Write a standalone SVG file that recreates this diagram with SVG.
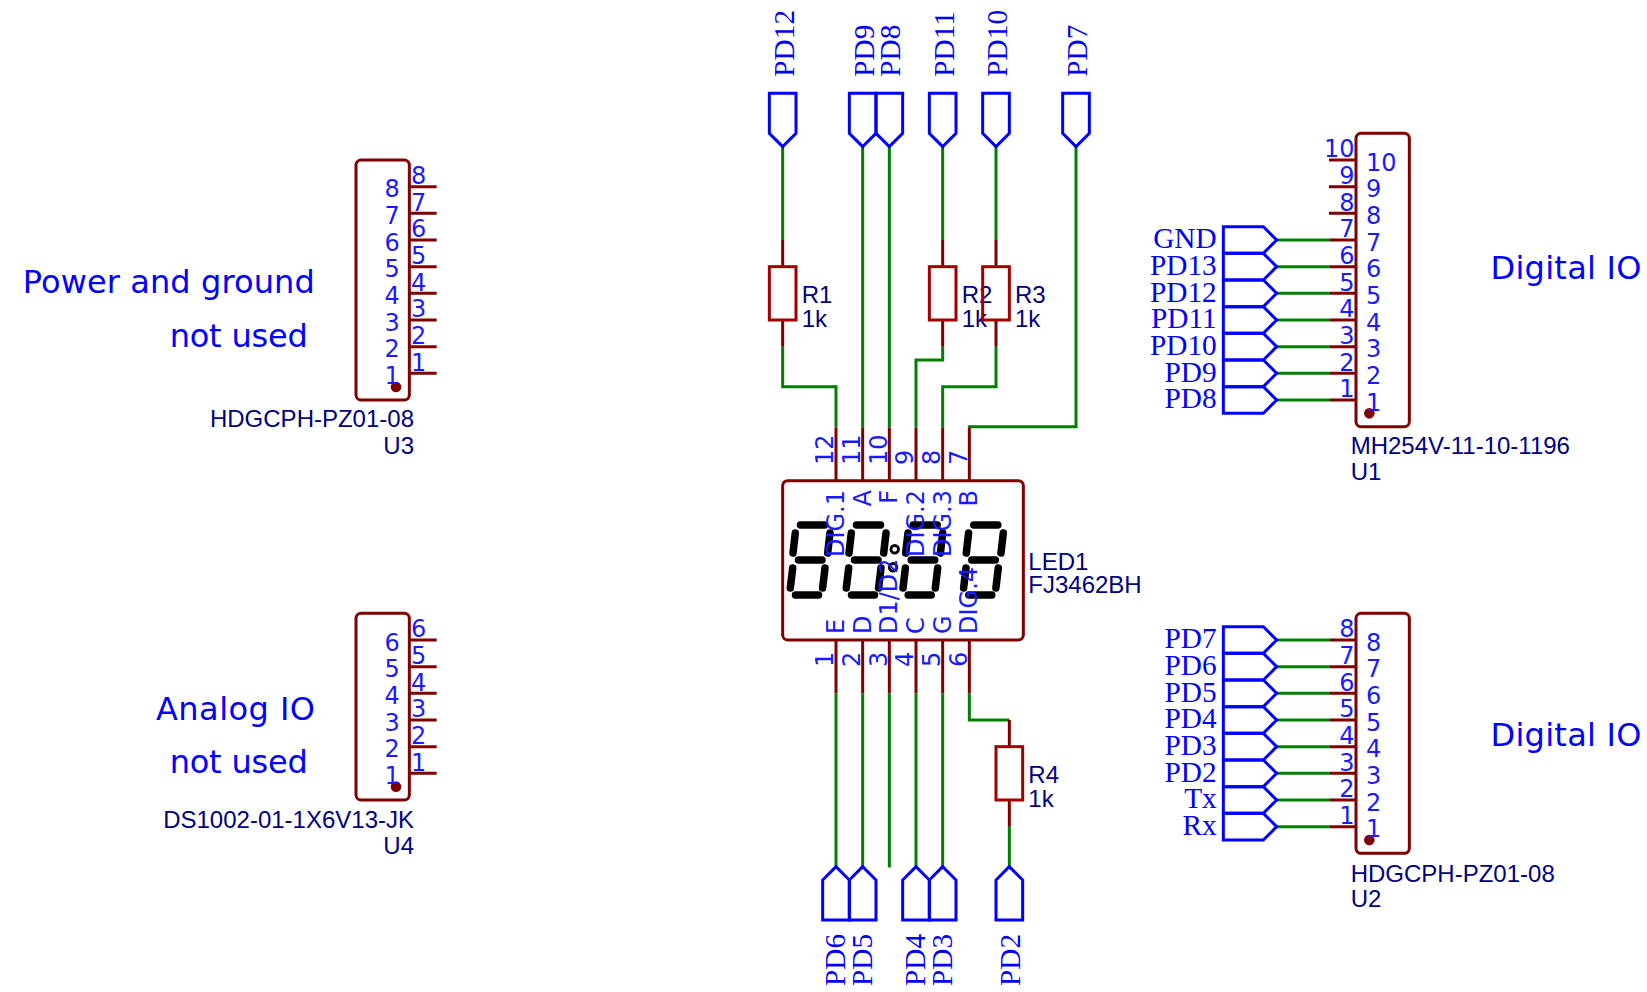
<svg xmlns="http://www.w3.org/2000/svg" xmlns:xlink="http://www.w3.org/1999/xlink" width="1647" height="992" viewBox="0 0 1647 992">
<style>
.body{fill:#fff;stroke:#800000;stroke-width:3}
.pin{fill:none;stroke:#800000;stroke-width:3}
.res{fill:none;stroke:#a00000;stroke-width:3}
.wire{fill:none;stroke:#008000;stroke-width:3}
.port{fill:none;stroke:#0000ff;stroke-width:3}
.dot{fill:#800000}
.seg{fill:none;stroke:#000;stroke-width:7.5;stroke-linecap:round}
.pn{font-family:"DejaVu Sans",Verdana,sans-serif;font-size:24px;fill:#1a1aff}
.dn{font-family:"Liberation Sans",Arial,sans-serif;font-size:24px;fill:#000080}
.pl{font-family:"Liberation Serif","Times New Roman",serif;font-size:29.3px;fill:#0000ff}
.note{font-family:"DejaVu Sans",Verdana,sans-serif;font-size:32px;fill:#0000ff}
.e{text-anchor:end}
</style>
<defs>
<polygon id="pR" class="port" points="0,0 -13.33,-13.33 -53.33,-13.33 -53.33,13.33 -13.33,13.33"/>
<polygon id="pD" class="port" points="0,0 -13.33,-13.33 -13.33,-53.33 13.33,-53.33 13.33,-13.33"/>
<polygon id="pU" class="port" points="0,0 -13.33,13.33 -13.33,53.33 13.33,53.33 13.33,13.33"/>
<g id="digit">
<path class="seg" d="M800.5 525H824.5M795.3 533L793 553M830 533L827.7 553M798.5 560H822M792.7 568L790.3 588M825 568L822.6 588M795.5 595H818.5"/>
</g>
</defs>

<g id="connectors">
<path class="wire" d="M782.67 146.67V240M782.67 346.67V386.67H836V427"/>
<path class="wire" d="M862.67 146.67V427"/>
<path class="wire" d="M889.33 146.67V427"/>
<path class="wire" d="M942.67 146.67V240M942.67 346.67V360H916V427"/>
<path class="wire" d="M996 146.67V240M996 346.67V386.67H942.67V427"/>
<path class="wire" d="M1076 146.67V426.67H969.33V427"/>
<path class="wire" d="M836 693.33V866.67"/>
<path class="wire" d="M862.67 693.33V866.67"/>
<path class="wire" d="M889.33 693.33V867.5"/>
<path class="wire" d="M916 693.33V866.67"/>
<path class="wire" d="M942.67 693.33V866.67"/>
<path class="wire" d="M969.33 693.33V720H1009.33"/>
<path class="wire" d="M1009.33 826.67V866.67"/>
<path class="wire" d="M1276.67 240H1330M1276.67 266.67H1330M1276.67 293.33H1330M1276.67 320H1330M1276.67 346.67H1330M1276.67 373.33H1330M1276.67 400H1330"/>
<path class="wire" d="M1276.67 640H1330M1276.67 666.67H1330M1276.67 693.33H1330M1276.67 720H1330M1276.67 746.67H1330M1276.67 773.33H1330M1276.67 800H1330M1276.67 826.67H1330"/>
</g>

<g id="U3">
<rect class="body" x="356" y="160" width="53.33" height="240" rx="5"/>
<path class="pin" d="M409.33 186.67H436.67M409.33 213.33H436.67M409.33 240H436.67M409.33 266.67H436.67M409.33 293.33H436.67M409.33 320H436.67M409.33 346.67H436.67M409.33 373.33H436.67"/>
<circle class="dot" cx="396" cy="387" r="5.3"/>
<text class="pn" x="411" y="184">8</text><text class="pn" x="411" y="210.6">7</text><text class="pn" x="411" y="237.3">6</text><text class="pn" x="411" y="264">5</text><text class="pn" x="411" y="290.6">4</text><text class="pn" x="411" y="317.3">3</text><text class="pn" x="411" y="344">2</text><text class="pn" x="411" y="370.6">1</text>
<text class="pn e" x="399.7" y="197.3">8</text><text class="pn e" x="399.7" y="224">7</text><text class="pn e" x="399.7" y="250.7">6</text><text class="pn e" x="399.7" y="277.3">5</text><text class="pn e" x="399.7" y="304">4</text><text class="pn e" x="399.7" y="330.7">3</text><text class="pn e" x="399.7" y="357.3">2</text><text class="pn e" x="399.7" y="384">1</text>
<text class="dn e" x="414" y="427.3">HDGCPH-PZ01-08</text>
<text class="dn e" x="414" y="453.8">U3</text>
<text class="note" x="22.7" y="293.3" textLength="292" lengthAdjust="spacing">Power and ground</text>
<text class="note" x="169.7" y="346.7" textLength="138" lengthAdjust="spacing">not used</text>
</g>

<g id="U4">
<rect class="body" x="356" y="613.33" width="53.33" height="186.67" rx="5"/>
<path class="pin" d="M409.33 640H436.67M409.33 666.67H436.67M409.33 693.33H436.67M409.33 720H436.67M409.33 746.67H436.67M409.33 773.33H436.67"/>
<circle class="dot" cx="396" cy="786.67" r="5.3"/>
<text class="pn" x="411" y="637.3">6</text><text class="pn" x="411" y="664">5</text><text class="pn" x="411" y="690.6">4</text><text class="pn" x="411" y="717.3">3</text><text class="pn" x="411" y="744">2</text><text class="pn" x="411" y="770.6">1</text>
<text class="pn e" x="399.7" y="650.7">6</text><text class="pn e" x="399.7" y="677.3">5</text><text class="pn e" x="399.7" y="704">4</text><text class="pn e" x="399.7" y="730.7">3</text><text class="pn e" x="399.7" y="757.3">2</text><text class="pn e" x="399.7" y="784">1</text>
<text class="dn e" x="414" y="828.3">DS1002-01-1X6V13-JK</text>
<text class="dn e" x="414" y="854.3">U4</text>
<text class="note" x="156" y="719.5" textLength="159" lengthAdjust="spacing">Analog IO</text>
<text class="note" x="169.7" y="773.3" textLength="138" lengthAdjust="spacing">not used</text>
</g>

<g id="U1">
<rect class="body" x="1356" y="133.33" width="53.33" height="293.33" rx="5"/>
<path class="pin" d="M1329 160H1356M1329 186.67H1356M1329 213.33H1356M1330 240H1356M1330 266.67H1356M1330 293.33H1356M1330 320H1356M1330 346.67H1356M1330 373.33H1356M1330 400H1356"/>
<circle class="dot" cx="1369.33" cy="413.33" r="5.3"/>
<text class="pn e" x="1354.5" y="157.3">10</text><text class="pn e" x="1354.5" y="184">9</text><text class="pn e" x="1354.5" y="210.6">8</text><text class="pn e" x="1354.5" y="237.3">7</text><text class="pn e" x="1354.5" y="264">6</text><text class="pn e" x="1354.5" y="290.6">5</text><text class="pn e" x="1354.5" y="317.3">4</text><text class="pn e" x="1354.5" y="344">3</text><text class="pn e" x="1354.5" y="370.6">2</text><text class="pn e" x="1354.5" y="397.3">1</text>
<text class="pn" x="1366" y="170.7">10</text><text class="pn" x="1366" y="197.3">9</text><text class="pn" x="1366" y="224">8</text><text class="pn" x="1366" y="250.7">7</text><text class="pn" x="1366" y="277.3">6</text><text class="pn" x="1366" y="304">5</text><text class="pn" x="1366" y="330.7">4</text><text class="pn" x="1366" y="357.3">3</text><text class="pn" x="1366" y="384">2</text><text class="pn" x="1366" y="410.7">1</text>
<text class="dn" x="1350.7" y="454.3">MH254V-11-10-1196</text>
<text class="dn" x="1350.7" y="480">U1</text>
<text class="note" x="1490.5" y="279" textLength="151" lengthAdjust="spacing">Digital IO</text>
</g>

<g id="U2">
<rect class="body" x="1356" y="613.33" width="53.33" height="240" rx="5"/>
<path class="pin" d="M1330 640H1356M1330 666.67H1356M1330 693.33H1356M1330 720H1356M1330 746.67H1356M1330 773.33H1356M1330 800H1356M1330 826.67H1356"/>
<circle class="dot" cx="1369.33" cy="840" r="5.3"/>
<text class="pn e" x="1354.5" y="637.3">8</text><text class="pn e" x="1354.5" y="664">7</text><text class="pn e" x="1354.5" y="690.6">6</text><text class="pn e" x="1354.5" y="717.3">5</text><text class="pn e" x="1354.5" y="744">4</text><text class="pn e" x="1354.5" y="770.6">3</text><text class="pn e" x="1354.5" y="797.3">2</text><text class="pn e" x="1354.5" y="824">1</text>
<text class="pn" x="1366" y="650.7">8</text><text class="pn" x="1366" y="677.3">7</text><text class="pn" x="1366" y="704">6</text><text class="pn" x="1366" y="730.7">5</text><text class="pn" x="1366" y="757.3">4</text><text class="pn" x="1366" y="784">3</text><text class="pn" x="1366" y="810.7">2</text><text class="pn" x="1366" y="837.3">1</text>
<text class="dn" x="1350.7" y="882.3">HDGCPH-PZ01-08</text>
<text class="dn" x="1350.7" y="906.7">U2</text>
<text class="note" x="1490.5" y="746.4" textLength="151" lengthAdjust="spacing">Digital IO</text>
</g>

<g id="LED1">
<rect class="body" x="782.67" y="480.67" width="240.67" height="159.33" rx="5"/>
<path class="pin" d="M836 427.33V480M862.67 427.33V480M889.33 427.33V480M916 427.33V480M942.67 427.33V480M969.33 427.33V480M836 640V693.33M862.67 640V693.33M889.33 640V693.33M916 640V693.33M942.67 640V693.33M969.33 640V693.33"/>
<use href="#digit"/>
<use href="#digit" x="56"/>
<use href="#digit" x="112.7"/>
<use href="#digit" x="173.3"/>
<circle cx="894.7" cy="549.3" r="3.8" fill="none" stroke="#000" stroke-width="2.8"/>
<circle cx="893" cy="567.3" r="3.8" fill="none" stroke="#000" stroke-width="2.8"/>
<g class="pn">
<text transform="translate(833.3 465) rotate(-90)">12</text>
<text transform="translate(860 465) rotate(-90)">11</text>
<text transform="translate(886.7 465) rotate(-90)">10</text>
<text transform="translate(913.3 465) rotate(-90)">9</text>
<text transform="translate(940 465) rotate(-90)">8</text>
<text transform="translate(966.7 465) rotate(-90)">7</text>
<text transform="translate(833.3 667) rotate(-90)">1</text>
<text transform="translate(860 667) rotate(-90)">2</text>
<text transform="translate(886.7 667) rotate(-90)">3</text>
<text transform="translate(913.3 667) rotate(-90)">4</text>
<text transform="translate(940 667) rotate(-90)">5</text>
<text transform="translate(966.7 667) rotate(-90)">6</text>
<text class="e" transform="translate(844 490) rotate(-90)">DIG.1</text>
<text class="e" transform="translate(870.7 490) rotate(-90)">A</text>
<text class="e" transform="translate(897.3 490) rotate(-90)">F</text>
<text class="e" transform="translate(924 490) rotate(-90)">DIG.2</text>
<text class="e" transform="translate(950.7 490) rotate(-90)">DIG.3</text>
<text class="e" transform="translate(977.3 490) rotate(-90)">B</text>
<text transform="translate(844 634) rotate(-90)">E</text>
<text transform="translate(870.7 634) rotate(-90)">D</text>
<text transform="translate(897.3 634) rotate(-90)">D1/D2</text>
<text transform="translate(924 634) rotate(-90)">C</text>
<text transform="translate(950.7 634) rotate(-90)">G</text>
<text transform="translate(977.3 634) rotate(-90)">DIG.4</text>
</g>
<text class="dn" x="1028.3" y="570">LED1</text>
<text class="dn" x="1028.3" y="592.7">FJ3462BH</text>
</g>

<g id="R1"><path class="pin" d="M782.67 240V266.67M782.67 320V346.67"/><rect class="res" x="769.33" y="266.67" width="26.67" height="53.33"/><text class="dn" x="801.7" y="303.3">R1</text><text class="dn" x="801.7" y="326.7">1k</text></g>
<g id="R2"><path class="pin" d="M942.67 240V266.67M942.67 320V346.67"/><rect class="res" x="929.33" y="266.67" width="26.67" height="53.33"/><text class="dn" x="961.7" y="303.3">R2</text><text class="dn" x="961.7" y="326.7">1k</text></g>
<g id="R3"><path class="pin" d="M996 240V266.67M996 320V346.67"/><rect class="res" x="982.67" y="266.67" width="26.67" height="53.33"/><text class="dn" x="1015" y="303.3">R3</text><text class="dn" x="1015" y="326.7">1k</text></g>
<g id="R4"><path class="pin" d="M1009.33 720V746.67M1009.33 800V826.67"/><rect class="res" x="996" y="746.67" width="26.67" height="53.33"/><text class="dn" x="1028.3" y="783.3">R4</text><text class="dn" x="1028.3" y="806.7">1k</text></g>

<g id="port-top-PD12"><use href="#pD" x="782.67" y="146.67"/><text class="pl" transform="translate(793.7 76.7) rotate(-90)">PD12</text></g>
<g id="port-top-PD9"><use href="#pD" x="862.67" y="146.67"/><text class="pl" transform="translate(873.7 76.7) rotate(-90)">PD9</text></g>
<g id="port-top-PD8"><use href="#pD" x="889.33" y="146.67"/><text class="pl" transform="translate(900.3 76.7) rotate(-90)">PD8</text></g>
<g id="port-top-PD11"><use href="#pD" x="942.67" y="146.67"/><text class="pl" transform="translate(953.7 76.7) rotate(-90)">PD11</text></g>
<g id="port-top-PD10"><use href="#pD" x="996" y="146.67"/><text class="pl" transform="translate(1007 76.7) rotate(-90)">PD10</text></g>
<g id="port-top-PD7"><use href="#pD" x="1076" y="146.67"/><text class="pl" transform="translate(1087 76.7) rotate(-90)">PD7</text></g>

<g id="port-bot-PD6"><use href="#pU" x="836" y="866.67"/><text class="pl" transform="translate(845 986) rotate(-90)">PD6</text></g>
<g id="port-bot-PD5"><use href="#pU" x="862.67" y="866.67"/><text class="pl" transform="translate(871.7 986) rotate(-90)">PD5</text></g>
<g id="port-bot-PD4"><use href="#pU" x="916" y="866.67"/><text class="pl" transform="translate(925 986) rotate(-90)">PD4</text></g>
<g id="port-bot-PD3"><use href="#pU" x="942.67" y="866.67"/><text class="pl" transform="translate(951.7 986) rotate(-90)">PD3</text></g>
<g id="port-bot-PD2"><use href="#pU" x="1009.33" y="866.67"/><text class="pl" transform="translate(1020 986) rotate(-90)">PD2</text></g>

<g id="ports-U1">
<use href="#pR" x="1276.67" y="240"/><use href="#pR" x="1276.67" y="266.67"/><use href="#pR" x="1276.67" y="293.33"/><use href="#pR" x="1276.67" y="320"/><use href="#pR" x="1276.67" y="346.67"/><use href="#pR" x="1276.67" y="373.33"/><use href="#pR" x="1276.67" y="400"/>
<text class="pl e" x="1216.7" y="248.3">GND</text><text class="pl e" x="1216.7" y="275">PD13</text><text class="pl e" x="1216.7" y="301.7">PD12</text><text class="pl e" x="1216.7" y="328.3">PD11</text><text class="pl e" x="1216.7" y="355">PD10</text><text class="pl e" x="1216.7" y="381.7">PD9</text><text class="pl e" x="1216.7" y="408.3">PD8</text>
</g>
<g id="ports-U2">
<use href="#pR" x="1276.67" y="640"/><use href="#pR" x="1276.67" y="666.67"/><use href="#pR" x="1276.67" y="693.33"/><use href="#pR" x="1276.67" y="720"/><use href="#pR" x="1276.67" y="746.67"/><use href="#pR" x="1276.67" y="773.33"/><use href="#pR" x="1276.67" y="800"/><use href="#pR" x="1276.67" y="826.67"/>
<text class="pl e" x="1216.7" y="648.3">PD7</text><text class="pl e" x="1216.7" y="675">PD6</text><text class="pl e" x="1216.7" y="701.7">PD5</text><text class="pl e" x="1216.7" y="728.3">PD4</text><text class="pl e" x="1216.7" y="755">PD3</text><text class="pl e" x="1216.7" y="781.7">PD2</text><text class="pl e" x="1216.7" y="808.3">Tx</text><text class="pl e" x="1216.7" y="835">Rx</text>
</g>
</svg>
